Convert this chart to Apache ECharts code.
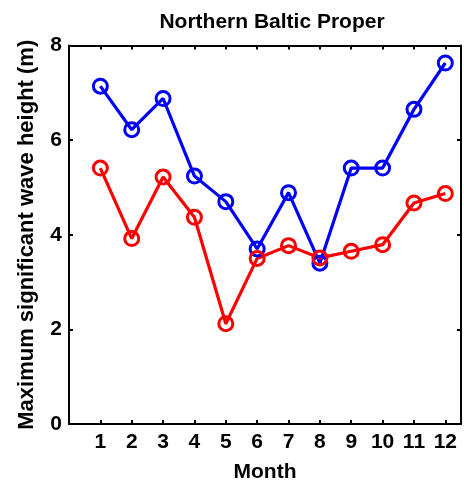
<!DOCTYPE html>
<html>
<head>
<meta charset="utf-8">
<script src="https://cdn.jsdelivr.net/npm/echarts@6/dist/echarts.min.js"></script>
<style>html,body{margin:0;padding:0;background:#fff;}#c{width:464px;height:488px;}</style>
</head>
<body>
<div id="c"></div>
<script>
const months = [1, 2, 3, 4, 5, 6, 7, 8, 9, 10, 11, 12];
const blueValues = [7.14, 6.22, 6.88, 5.24, 4.70, 3.70, 4.89, 3.40, 5.41, 5.41, 6.65, 7.63];
const redValues = [5.41, 3.92, 5.22, 4.37, 2.12, 3.50, 3.77, 3.51, 3.65, 3.79, 4.67, 4.87];
const yTicks = [0, 2, 4, 6, 8];
const titleText = 'Northern Baltic Proper';
const xName = 'Month';
const yName = 'Maximum significant wave height (m)';

const FONT = '"Liberation Sans", Arial, sans-serif';
const chart = echarts.init(document.getElementById('c'), null, {renderer: 'canvas'});
const mk = (vals) => months.map((m, i) => [m, vals[i]]);
const baseSeries = (vals, color) => ({
  type: 'line', data: mk(vals), xAxisIndex: 0, yAxisIndex: 0,
  symbol: 'circle', symbolSize: 14, showSymbol: true,
  lineStyle: {color: color, width: 3.2},
  itemStyle: {color: 'rgba(255,255,255,0)', borderColor: color, borderWidth: 3},
  animation: false, z: 3
});
chart.setOption({
  animation: false,
  backgroundColor: '#fff',
  title: {text: titleText, left: 267, top: 7, textAlign: 'center',
    textStyle: {fontFamily: FONT, fontWeight: 'bold', fontSize: 21, color: '#000'}},
  grid: {left: 69, right: -2, top: 45.5, bottom: 60, containLabel: false},
  xAxis: [{
    type: 'value', min: 0, max: 12.5, interval: 1, position: 'bottom',
    name: xName, nameLocation: 'middle', nameGap: 38,
    nameTextStyle: {fontFamily: FONT, fontWeight: 'bold', fontSize: 21, color: '#000'},
    axisLine: {show: true, onZero: false, lineStyle: {color: '#000', width: 2}},
    axisTick: {show: true, inside: true, length: 4, lineStyle: {color: '#000', width: 2}},
    axisLabel: {margin: 8, fontFamily: FONT, fontWeight: 'bold', fontSize: 21, color: '#000',
      formatter: v => (months.indexOf(v) >= 0 ? String(v) : '')},
    splitLine: {show: false}
  }, {
    type: 'value', min: 0, max: 12.5, interval: 1, position: 'top',
    axisLine: {show: true, onZero: false, lineStyle: {color: '#000', width: 2}},
    axisTick: {show: true, inside: true, length: 4, lineStyle: {color: '#000', width: 2}},
    axisLabel: {show: false}, splitLine: {show: false}
  }],
  yAxis: [{
    type: 'value', min: yTicks[0], max: yTicks[yTicks.length - 1], interval: 2, position: 'left',
    name: yName, nameLocation: 'middle', nameGap: 31,
    nameTextStyle: {fontFamily: FONT, fontWeight: 'bold', fontSize: 22, color: '#000'},
    axisLine: {show: true, onZero: false, lineStyle: {color: '#000', width: 2}},
    axisTick: {show: true, inside: true, length: 4, lineStyle: {color: '#000', width: 2}},
    axisLabel: {margin: 7, fontFamily: FONT, fontWeight: 'bold', fontSize: 21, color: '#000'},
    splitLine: {show: false}
  }, {
    type: 'value', min: yTicks[0], max: yTicks[yTicks.length - 1], interval: 2, position: 'right',
    axisLine: {show: true, onZero: false, lineStyle: {color: '#000', width: 2}},
    axisTick: {show: true, inside: true, length: 4, lineStyle: {color: '#000', width: 2}},
    axisLabel: {show: false}, splitLine: {show: false}
  }],
  series: [baseSeries(blueValues, '#0000ff'), baseSeries(redValues, '#ff0000')]
});
</script>
</body>
</html>
